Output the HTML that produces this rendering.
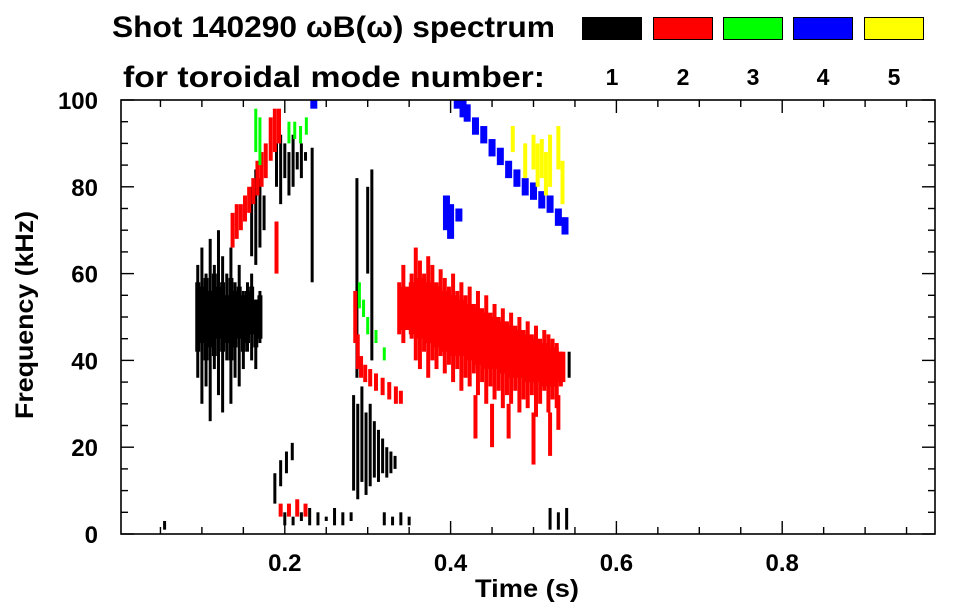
<!DOCTYPE html>
<html><head><meta charset="utf-8"><style>
body{margin:0;background:#fff;}
svg{display:block;font-family:"Liberation Sans",sans-serif;font-weight:bold;}
</style></head><body>
<svg id="c" width="963" height="615" viewBox="0 0 963 615">
<text x="112" y="37" font-size="30" textLength="443" lengthAdjust="spacingAndGlyphs">Shot 140290 ωB(ω) spectrum</text>
<text x="123" y="87" font-size="30" textLength="422" lengthAdjust="spacingAndGlyphs">for toroidal mode number:</text>
<g id="legend"></g>
<g id="marks"></g>
<g id="axes"></g>
<text x="527" y="597" font-size="25" text-anchor="middle" textLength="104" lengthAdjust="spacingAndGlyphs">Time (s)</text>
<text transform="translate(33,315) rotate(-90)" font-size="25" text-anchor="middle" textLength="208" lengthAdjust="spacingAndGlyphs">Frequency (kHz)</text>
</svg>
<script>
const modeLabels=["1","2","3","4","5"];
const modeColors=["#000000","#ff0000","#00ff00","#0000ff","#ffff00"];
const xTicks=[0.2,0.4,0.6,0.8];
const yTicks=[0,20,40,60,80,100];
// mode 1 (black)
const m1Time=[.095,.100,.105,.110,.115,.120,.125,.130,.135,.140,.145,.150,.155,.160,.165,.170,
 .160,.165,.170,.175,.190,.195,.200,.205,.210,.215,.220,.225,.188,.195,.202,.209,
 .200,.210,.220,.230,.240,.250,.260,.270,.280,
 .283,.288,.293,.298,.303,.308,.313,.318,.323,.328,.333,.287,.305,.300,.233,
 .320,.330,.340,.350,.520,.530,.540,.543,.055];
const m1Lo=[36,30,34,26,38,32,28,40,30,36,34,38,42,40,38,44,
 64,62,66,70,80,76,82,78,80,84,82,86,7,11,14,17,
 2,2,3,2,2,3,2,2,3,
 10,8,12,9,11,13,12,14,13,14,15,36,40,60,58,
 2,2,2,2,1,1,1,36,1];
const m1Hi=[62,66,60,68,62,70,64,60,66,58,62,56,58,60,54,56,
 80,84,82,78,90,92,90,88,92,88,90,88,14,17,19,21,
 5,4,5,6,5,4,6,5,5,
 32,30,34,28,30,26,24,22,20,19,18,82,84,80,89,
 5,4,5,4,6,5,6,42,3];
const m1Core=[42,44,40,43,41,45,42,44,40,43,45,42,44,46,43,45];
const m1CoreHi=[58,57,59,56,60,57,58,55,59,56,57,55,56,57,54,55];
// mode 2 (red)
const m2Time=[.137,.142,.147,.152,.157,.162,.167,.172,.177,.183,.188,.193,.190,
 .285,.288,.292,.297,.303,.310,.318,.326,.334,.340,
 .338,.343,.348,.353,.358,.363,.368,.373,.378,.383,.388,.393,.398,.403,.408,.413,.418,.423,.428,.433,.438,.443,.448,.453,.458,.463,.468,.473,.478,.483,.488,.493,.498,.503,.508,.513,.518,.523,.528,.533,
 .430,.450,.470,.500,.520,.530,.195,.205,.215,.225];
const m2Lo=[66,68,70,72,74,76,78,80,82,86,88,90,60,
 44,38,36,35,34,33,32,31,30,30,
 46,44,47,45,40,38,42,36,40,38,41,37,39,35,38,33,36,34,37,32,35,30,34,31,33,29,32,30,33,28,31,29,32,27,30,33,28,31,29,34,
 22,20,22,16,18,24,4,4,4,4];
const m2Hi=[74,76,76,78,80,82,86,88,90,96,98,98,72,
 56,46,41,39,38,37,36,35,34,33,
 58,62,55,60,66,63,60,64,62,58,61,59,57,60,56,58,55,57,53,56,52,55,50,53,49,52,48,51,47,50,46,49,45,48,44,47,46,45,44,42,
 32,30,30,28,28,32,7,7,8,7];
const m2CoreTime=[.345,.355,.365,.375,.385,.395,.405,.415,.425,.435,.445,.455,.465,.475,.485,.495,.505,.515,.525,.533];
const m2CoreLo=[47,46,45,44,43,42,41,41,40,39,38,38,37,36,36,35,35,34,34,35];
const m2CoreHi=[57,58,59,58,57,56,55,54,53,52,51,50,49,48,47,46,45,44,43,42];
// mode 3 (green)
const m3Time=[.165,.170,.205,.212,.219,.226,.290,.295,.300,.310,.320];
const m3Lo=[88,85,90,91,90,92,52,50,46,44,40];
const m3Hi=[98,96,95,95,94,96,58,54,50,47,43];
// mode 4 (blue)
const m4Time=[.408,.415,.420,.430,.440,.450,.460,.470,.480,.490,.500,.510,.520,.530,.538,.235,.395,.400,.410];
const m4Lo=[98,96,95,92,90,87,85,82,80,78,77,75,74,71,69,98,70,68,72];
const m4Hi=[100,100,99,96,94,91,89,86,84,82,81,79,78,75,73,100,78,76,75];
// mode 5 (yellow)
const m5Time=[.475,.490,.500,.505,.510,.515,.520,.530,.535];
const m5Lo=[88,82,84,80,82,78,80,84,76];
const m5Hi=[94,90,92,90,91,88,92,94,86];

const NS="http://www.w3.org/2000/svg";
const X0=121,X1=935,Y0=534,Y1=100;
const xS=t=>119+t*829;
const yS=f=>Y0-(f/100)*(Y0-Y1);
function mk(tag,attrs,parent){const e=document.createElementNS(NS,tag);for(const k in attrs)e.setAttribute(k,attrs[k]);parent.appendChild(e);return e;}

const marks=document.getElementById('marks');
function strips(times,lo,hi,color,w,name){
  for(let i=0;i<times.length;i++){
    const y1=yS(hi[i]),y2=yS(lo[i]);
    const r=mk('rect',{x:xS(times[i])-w/2,y:y1,width:w,height:Math.max(1,y2-y1),fill:color},marks);
    
    
  }
}
strips(m1Time,m1Lo,m1Hi,modeColors[0],3,'mode1-strip');
strips(m1Time.slice(0,16),m1Core,m1CoreHi,modeColors[0],5,'mode1-core');
strips(m2Time,m2Lo,m2Hi,modeColors[1],4,'mode2-strip');
strips(m2CoreTime,m2CoreLo,m2CoreHi,modeColors[1],9,'mode2-core');
strips(m3Time,m3Lo,m3Hi,modeColors[2],3,'mode3-strip');
strips(m4Time,m4Lo,m4Hi,modeColors[3],7,'mode4-strip');
strips(m5Time,m5Lo,m5Hi,modeColors[4],4,'mode5-strip');

// legend
const lg=document.getElementById('legend');
const lx=[582,653,723,793,864];
modeLabels.forEach((m,i)=>{
  const r=mk('rect',{x:lx[i]+0.5,y:17.5,width:59,height:22,fill:modeColors[i],stroke:'#000','stroke-width':1},lg);
  
  
  const t=mk('text',{x:lx[i]+30,y:85,'font-size':23,'text-anchor':'middle'},lg);
  t.textContent=m;
  
  
});

// axes
const ax=document.getElementById('axes');
const fr=mk('rect',{x:X0,y:Y1,width:X1-X0,height:Y0-Y1,fill:'none',stroke:'#000','stroke-width':1.6},ax);


for(let f=0;f<=100;f+=5){
  const y=yS(f),L=(f%20===0)?13:7;
  mk('line',{x1:X0,y1:y,x2:X0+L,y2:y,stroke:'#000','stroke-width':1.4},ax);
  mk('line',{x1:X1,y1:y,x2:X1-L,y2:y,stroke:'#000','stroke-width':1.4},ax);
}
for(let k=1;k<=19;k++){
  const t=k*0.05,x=xS(t);if(x>X1)break;
  const L=(k%4===0)?13:7;
  mk('line',{x1:x,y1:Y0,x2:x,y2:Y0-L,stroke:'#000','stroke-width':1.4},ax);
  mk('line',{x1:x,y1:Y1,x2:x,y2:Y1+L,stroke:'#000','stroke-width':1.4},ax);
}
yTicks.forEach(v=>{
  const t=mk('text',{x:98,y:yS(v)+9,'font-size':24,'text-anchor':'end'},ax);
  t.textContent=v;
  
  
});
xTicks.forEach(v=>{
  const t=mk('text',{x:xS(v),y:571,'font-size':24,'text-anchor':'middle'},ax);
  t.textContent=v.toFixed(1);
  
  
});
</script>
</body></html>
